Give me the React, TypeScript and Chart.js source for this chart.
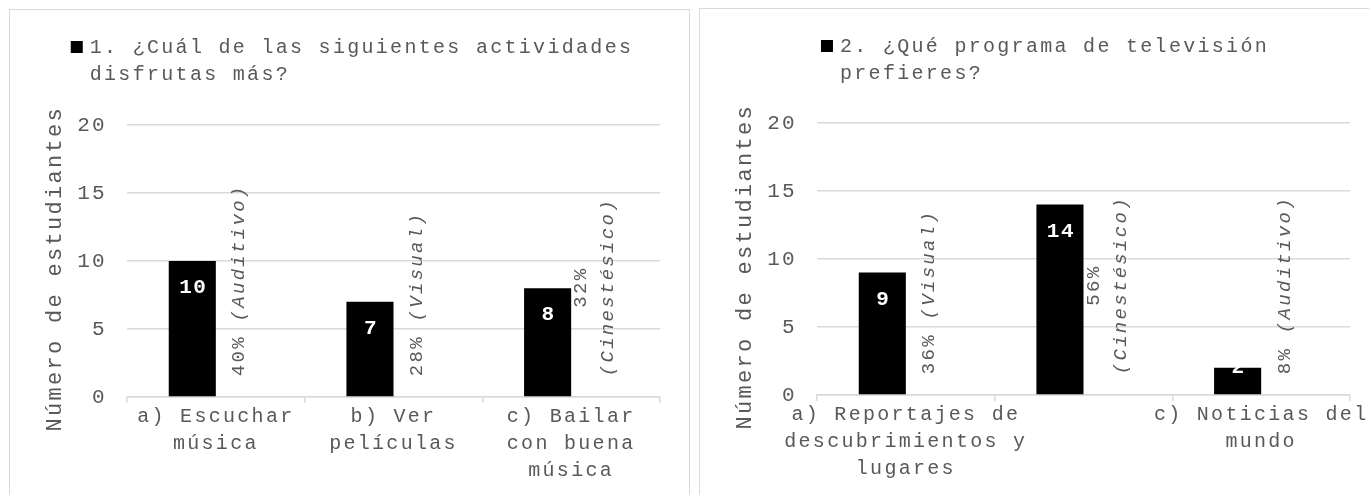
import React, { useEffect, useRef } from 'react';
import { Chart, registerables } from 'chart.js';

Chart.register(...registerables);

// ---------- data ----------
const chart1Title = ['1. ¿Cuál de las siguientes actividades', 'disfrutas más?'];
const chart1Categories = [['a) Escuchar', 'música'], ['b) Ver', 'películas'], ['c) Bailar', 'con buena', 'música']];
const chart1Counts = [10, 7, 8];
const chart1Percents = [40, 28, 32];
const chart1Styles = ['(Auditivo)', '(Visual)', '(Cinestésico)'];

const chart2Title = ['2. ¿Qué programa de televisión', 'prefieres?'];
const chart2Categories = [['a) Reportajes de', 'descubrimientos y', 'lugares'], '', ['c) Noticias del', 'mundo']];
const chart2Counts = [9, 14, 2];
const chart2Percents = [36, 56, 8];
const chart2Styles = ['(Visual)', '(Cinestésico)', '(Auditivo)'];

const yTicks = [0, 5, 10, 15, 20];
const yAxisTitle = 'Número de estudiantes ';

// ---------- style ----------
const FONT = '"Liberation Mono", "Courier New", monospace';
const TEXT = '#595959';
const GRID = '#d9d9d9';

type PanelProps = {
  title: string[];
  categories: (string | string[])[];
  counts: number[];
  percents: number[];
  styles: string[];
  width: number;
  height: number;
  areaTop: number;
  areaBottom: number;
  areaRight: number;
};

function Panel(p: PanelProps) {
  const ref = useRef<HTMLCanvasElement | null>(null);

  useEffect(() => {
    const canvas = ref.current;
    if (!canvas) return;

    const spacing = {
      id: 'spacing',
      beforeUpdate(chart: any) {
        chart.ctx.letterSpacing = '2.3px';
      },
      beforeDraw(chart: any) {
        chart.ctx.letterSpacing = '2.3px';
      },
    };

    const decorations = {
      id: 'decorations',
      afterDatasetsDraw(chart: any) {
        const ctx = chart.ctx as CanvasRenderingContext2D;
        // value labels inside bars
        const meta0 = chart.getDatasetMeta(0);
        meta0.data.forEach((bar: any, i: number) => {
          const { x, y, base } = bar.getProps(['x', 'y', 'base'], true);
          ctx.save();
          (ctx as any).letterSpacing = '1.5px';
          ctx.font = `bold 21px ${FONT}`;
          ctx.fillStyle = '#ffffff';
          ctx.textAlign = 'center';
          ctx.textBaseline = 'alphabetic';
          ctx.fillText(String(p.counts[i]), x + 1, Math.min(y + 32, base - 21));
          ctx.restore();
        });
        // rotated percentage / style labels on the hidden series
        const meta1 = chart.getDatasetMeta(1);
        meta1.data.forEach((bar: any, i: number) => {
          const { x, base } = bar.getProps(['x', 'base'], true);
          const pct = `${p.percents[i]}%`;
          const style = p.styles[i];
          const normal = `19px ${FONT}`;
          const italic = `italic 19px ${FONT}`;
          ctx.save();
          (ctx as any).letterSpacing = '2.3px';
          ctx.fillStyle = TEXT;
          ctx.translate(x, base - 20);
          ctx.rotate(-Math.PI / 2);
          ctx.textBaseline = 'middle';
          if ((pct + ' ' + style).length <= 15) {
            ctx.textAlign = 'left';
            ctx.font = normal;
            ctx.fillText(pct + ' ', 0, 0);
            const w = ctx.measureText(pct + ' ').width;
            ctx.font = italic;
            ctx.fillText(style, w, 0);
          } else {
            ctx.font = italic;
            const w2 = ctx.measureText(style).width;
            ctx.font = normal;
            const w1 = ctx.measureText(pct).width;
            const c = Math.max(w1, w2) / 2;
            ctx.textAlign = 'center';
            ctx.font = normal;
            ctx.fillText(pct, c, -13.5);
            ctx.font = italic;
            ctx.fillText(style, c, 13.5);
          }
          ctx.restore();
        });
      },
      afterDraw(chart: any) {
        const ctx = chart.ctx as CanvasRenderingContext2D;
        ctx.save();
        (ctx as any).letterSpacing = '2.3px';
        ctx.font = `20px ${FONT}`;
        ctx.fillStyle = TEXT;
        ctx.textAlign = 'left';
        ctx.textBaseline = 'alphabetic';
        const w = Math.max(...p.title.map((l) => ctx.measureText(l).width));
        const sq = 12;
        const gap = 7;
        const blockW = sq + gap + w;
        const left = chart.width / 2 + 3 - blockW / 2;
        const tx = left + sq + gap;
        p.title.forEach((l, i) => ctx.fillText(l, tx, 43 + i * 27));
        ctx.fillStyle = '#000000';
        ctx.fillRect(left, 43 - sq, sq, sq);
        ctx.restore();
      },
    };

    const chart = new Chart(canvas, {
      type: 'bar',
      data: {
        labels: p.categories as any,
        datasets: [
          {
            label: 'Estudiantes',
            data: p.counts,
            backgroundColor: '#000000',
            borderWidth: 0,
          },
          {
            label: 'Porcentaje',
            data: p.percents.map((v) => v / 100),
            backgroundColor: 'rgba(0,0,0,0)',
            borderWidth: 0,
          },
        ],
      },
      options: {
        responsive: false,
        animation: false,
        devicePixelRatio: 1,
        layout: {
          padding: { top: p.areaTop, right: p.width - p.areaRight, left: 0, bottom: 0 },
        },
        datasets: {
          bar: { categoryPercentage: 0.53, barPercentage: 1 },
        },
        plugins: {
          legend: { display: false },
          title: { display: false },
          tooltip: { enabled: false },
        },
        scales: {
          x: {
            offset: true,
            grid: {
              display: true,
              drawOnChartArea: false,
              drawTicks: true,
              tickLength: 6,
              color: GRID,
              lineWidth: 1.5,
              offset: true,
            },
            border: { display: true, color: GRID, width: 1.5 },
            ticks: {
              color: TEXT,
              autoSkip: false,
              maxRotation: 0,
              minRotation: 0,
              padding: 0,
              font: { family: FONT, size: 20, lineHeight: 1.35 },
            },
            afterFit(scale: any) {
              scale.height = p.height - p.areaBottom;
            },
          },
          y: {
            min: yTicks[0],
            max: yTicks[yTicks.length - 1],
            afterBuildTicks(scale: any) {
              scale.ticks = yTicks.map((v) => ({ value: v }));
            },
            grid: { color: GRID, lineWidth: 1.5, drawTicks: false },
            border: { display: false },
            ticks: {
              color: TEXT,
              padding: 20,
              font: { family: FONT, size: 21 },
            },
            title: {
              display: true,
              text: yAxisTitle,
              color: TEXT,
              font: { family: FONT, size: 22 },
              padding: { top: 32, bottom: 0 },
            },
            afterFit(scale: any) {
              scale.width = 117;
            },
          },
        },
      },
      plugins: [spacing, decorations],
    });

    return () => chart.destroy();
  }, []);

  return (
    <canvas
      ref={ref}
      width={p.width}
      height={p.height}
      style={{ display: 'block', width: p.width, height: p.height }}
    />
  );
}

export default function App() {
  return (
    <div
      style={{
        position: 'fixed',
        left: 0,
        top: 0,
        width: 1369,
        height: 495,
        overflow: 'hidden',
        background: '#ffffff',
      }}
    >
      <div
        style={{
          position: 'absolute',
          left: 9,
          top: 9,
          width: 679,
          height: 520,
          border: `1px solid ${GRID}`,
        }}
      >
        <Panel
          title={chart1Title}
          categories={chart1Categories}
          counts={chart1Counts}
          percents={chart1Percents}
          styles={chart1Styles}
          width={678}
          height={485}
          areaTop={115}
          areaBottom={387}
          areaRight={650}
        />
      </div>
      <div
        style={{
          position: 'absolute',
          left: 699,
          top: 8,
          width: 684,
          height: 520,
          border: `1px solid ${GRID}`,
        }}
      >
        <Panel
          title={chart2Title}
          categories={chart2Categories}
          counts={chart2Counts}
          percents={chart2Percents}
          styles={chart2Styles}
          width={684}
          height={486}
          areaTop={114}
          areaBottom={386}
          areaRight={650}
        />
      </div>
    </div>
  );
}
